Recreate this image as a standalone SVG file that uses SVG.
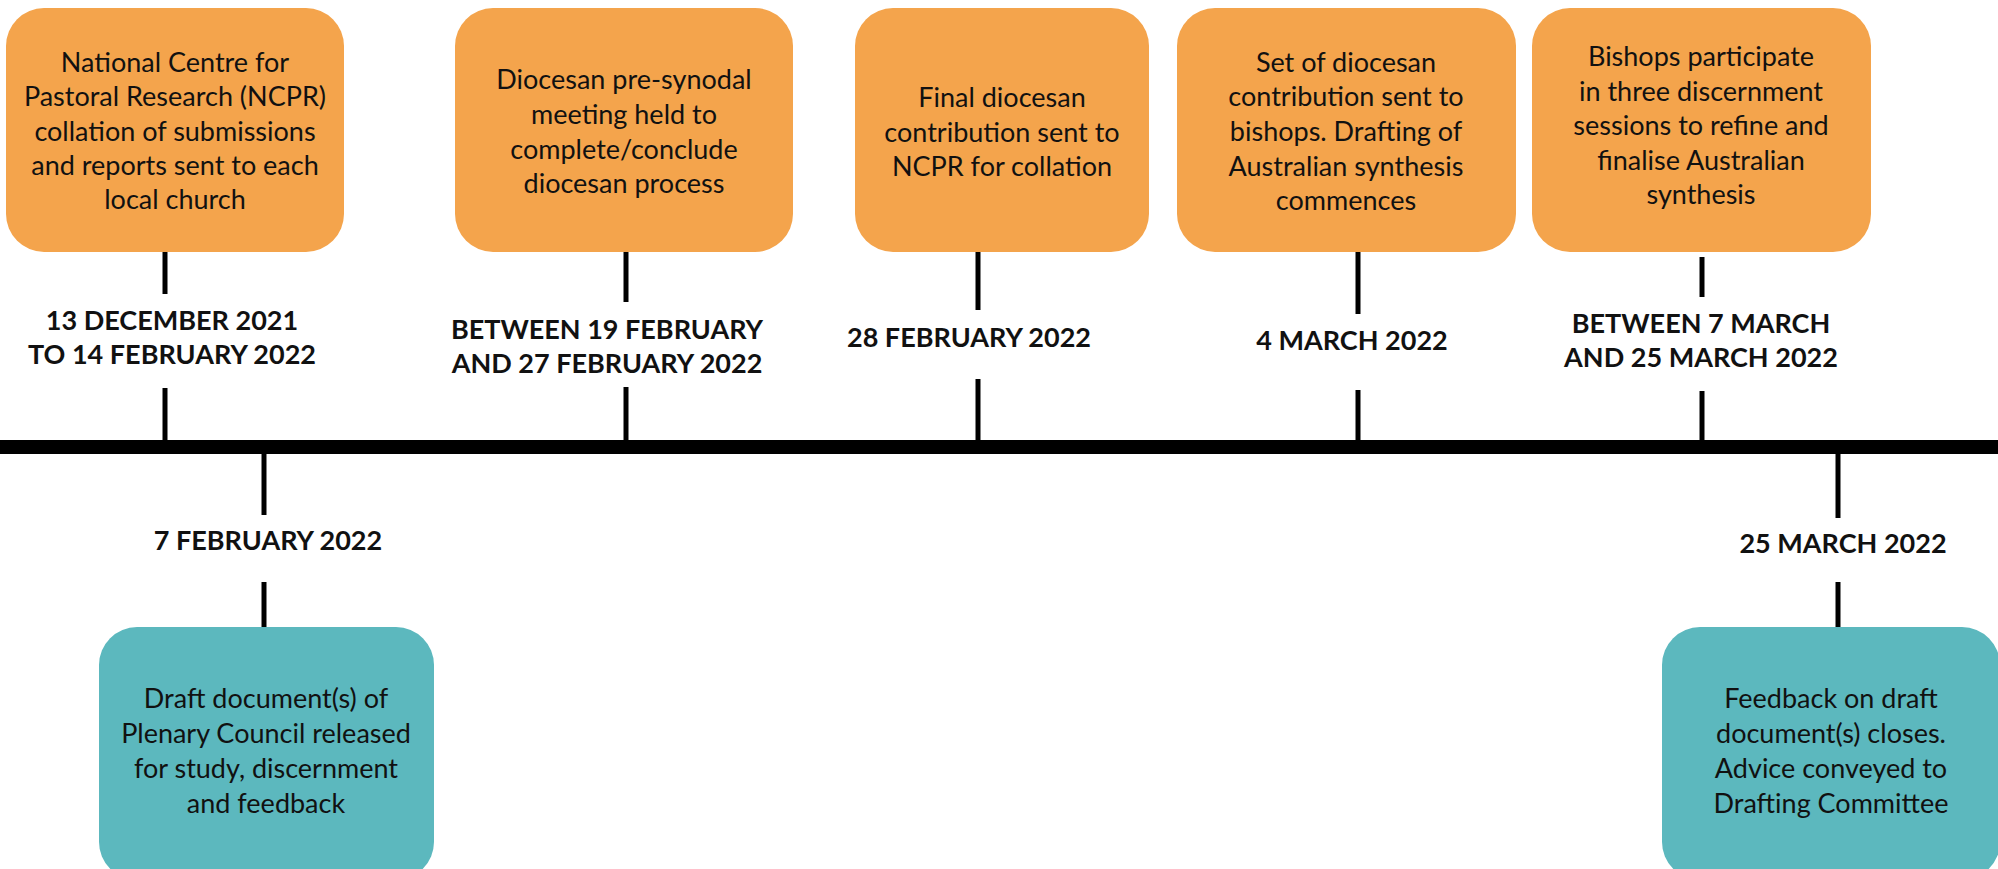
<svg xmlns="http://www.w3.org/2000/svg" width="1998" height="869" viewBox="0 0 1998 869">
<style>
.ob{fill:#F4A44C}
.tb{fill:#5CB8BE}
.bt{font-family:Lato,"Liberation Sans",sans-serif;font-size:27px;fill:#111;text-anchor:middle}
.dt{font-family:Lato,"Liberation Sans",sans-serif;font-size:27px;font-weight:bold;fill:#111;text-anchor:middle}
.st{stroke:#000;stroke-width:5;fill:none}
</style>
<rect width="1998" height="869" fill="#fff"/>
<g id="connectors">
<rect x="0" y="440" width="1998" height="14" fill="#000"/>
<line class="st" x1="165" y1="252" x2="165" y2="294"/>
<line class="st" x1="165" y1="388" x2="165" y2="440"/>
<line class="st" x1="626" y1="252" x2="626" y2="302"/>
<line class="st" x1="626" y1="387" x2="626" y2="440"/>
<line class="st" x1="978" y1="252" x2="978" y2="310"/>
<line class="st" x1="978" y1="379" x2="978" y2="440"/>
<line class="st" x1="1358" y1="252" x2="1358" y2="314"/>
<line class="st" x1="1358" y1="390" x2="1358" y2="440"/>
<line class="st" x1="1702" y1="257" x2="1702" y2="297"/>
<line class="st" x1="1702" y1="391" x2="1702" y2="440"/>
<line class="st" x1="264" y1="454" x2="264" y2="515"/>
<line class="st" x1="264" y1="582" x2="264" y2="627"/>
<line class="st" x1="1838" y1="454" x2="1838" y2="518"/>
<line class="st" x1="1838" y1="582" x2="1838" y2="627"/>
</g>
<g id="node1">
<rect class="ob" x="6" y="8" width="338" height="244" rx="38"/>
<text class="bt"><tspan x="175" y="72">National Centre for</tspan><tspan x="175" y="106">Pastoral Research (NCPR)</tspan><tspan x="175" y="141">collation of submissions</tspan><tspan x="175" y="175">and reports sent to each</tspan><tspan x="175" y="209">local church</tspan></text>
<text class="dt"><tspan x="172" y="330">13 DECEMBER 2021</tspan><tspan x="172" y="364">TO 14 FEBRUARY 2022</tspan></text>
</g>
<g id="node2">
<rect class="ob" x="455" y="8" width="338" height="244" rx="38"/>
<text class="bt"><tspan x="624" y="89">Diocesan pre-synodal</tspan><tspan x="624" y="124">meeting held to</tspan><tspan x="624" y="159">complete/conclude</tspan><tspan x="624" y="193">diocesan process</tspan></text>
<text class="dt"><tspan x="607" y="339">BETWEEN 19 FEBRUARY</tspan><tspan x="607" y="373">AND 27 FEBRUARY 2022</tspan></text>
</g>
<g id="node3">
<rect class="ob" x="855" y="8" width="294" height="244" rx="38"/>
<text class="bt"><tspan x="1002" y="107">Final diocesan</tspan><tspan x="1002" y="142">contribution sent to</tspan><tspan x="1002" y="176">NCPR for collation</tspan></text>
<text class="dt" x="969" y="347">28 FEBRUARY 2022</text>
</g>
<g id="node4">
<rect class="ob" x="1177" y="8" width="339" height="244" rx="38"/>
<text class="bt"><tspan x="1346" y="72">Set of diocesan</tspan><tspan x="1346" y="106">contribution sent to</tspan><tspan x="1346" y="141">bishops. Drafting of</tspan><tspan x="1346" y="176">Australian synthesis</tspan><tspan x="1346" y="210">commences</tspan></text>
<text class="dt" x="1352" y="350">4 MARCH 2022</text>
</g>
<g id="node5">
<rect class="ob" x="1532" y="8" width="339" height="244" rx="38"/>
<text class="bt"><tspan x="1701" y="66">Bishops participate</tspan><tspan x="1701" y="101">in three discernment</tspan><tspan x="1701" y="135">sessions to refine and</tspan><tspan x="1701" y="170">finalise Australian</tspan><tspan x="1701" y="204">synthesis</tspan></text>
<text class="dt"><tspan x="1701" y="333">BETWEEN 7 MARCH</tspan><tspan x="1701" y="367">AND 25 MARCH 2022</tspan></text>
</g>
<g id="node6">
<rect class="tb" x="99" y="627" width="335" height="253" rx="38"/>
<text class="bt"><tspan x="266" y="708">Draft document(s) of</tspan><tspan x="266" y="743">Plenary Council released</tspan><tspan x="266" y="778">for study, discernment</tspan><tspan x="266" y="813">and feedback</tspan></text>
<text class="dt" x="268" y="550">7 FEBRUARY 2022</text>
</g>
<g id="node7">
<rect class="tb" x="1662" y="627" width="338" height="253" rx="38"/>
<text class="bt"><tspan x="1831" y="708">Feedback on draft</tspan><tspan x="1831" y="743">document(s) closes.</tspan><tspan x="1831" y="778">Advice conveyed to</tspan><tspan x="1831" y="813">Drafting Committee</tspan></text>
<text class="dt" x="1843" y="553">25 MARCH 2022</text>
</g>
</svg>
